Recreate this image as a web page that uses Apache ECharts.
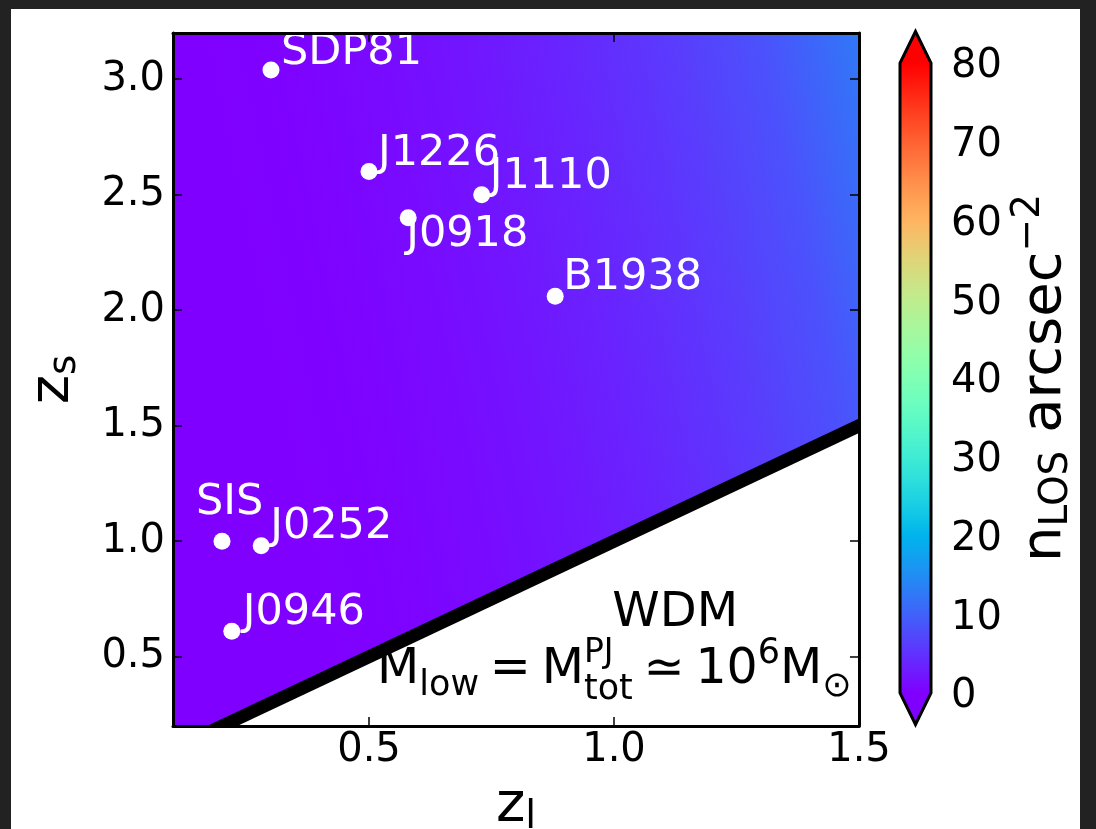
<!DOCTYPE html>
<html><head><meta charset="utf-8">
<script src="https://cdn.jsdelivr.net/npm/echarts@6/dist/echarts.min.js"></script>
<style>
html,body{margin:0;padding:0;background:#222;width:1096px;height:829px;overflow:hidden;}
#frame{position:absolute;left:11px;top:9px;width:1069px;height:820px;background:#fff;}
#chart{position:absolute;left:0;top:0;width:1096px;height:829px;}
</style></head><body>
<div id="frame"></div>
<div id="chart"></div>
<script>
// ---------------- data ----------------
const lensNames = ['SDP81', 'J1226', 'J1110', 'J0918', 'B1938', 'SIS', 'J0252', 'J0946'];
const lensZl    = [0.30, 0.50, 0.73, 0.58, 0.88, 0.20, 0.28, 0.22];
const lensZs    = [3.04, 2.60, 2.50, 2.40, 2.06, 1.00, 0.98, 0.61];
const xTicks = [0.5, 1.0, 1.5];
const yTicks = [0.5, 1.0, 1.5, 2.0, 2.5, 3.0];
const cbarTicks = [0, 10, 20, 30, 40, 50, 60, 70, 80];
// boundary z_s = z_l (white region below has no sources behind the lens)
const boundaryZl = [0.1, 1.6];
const boundaryZs = [0.1, 1.6];
// n_LOS read along the top edge (z_s = 3.2) of the map
const fieldZl  = [0.1, 0.3, 0.5, 0.7, 0.9, 1.1, 1.3, 1.5];
const fieldNlos = [0.0, 0.2, 1.0, 2.2, 3.8, 5.8, 8.3, 12.5];
const xRange = [0.1, 1.5], yRange = [0.2, 3.2], cbarRange = [0, 80];

// ---------------- styles ----------------
const FONT = 'DejaVu Sans';
const TICK_FS = 40;
const LABEL_FS = 43;
const labelOffset = { // pixel offset of label origin (left, cap-centre) from the dot centre
  SDP81: [10, -17], J1226: [9, -18], J1110: [8, -18], J0918: [-2, 17],
  B1938: [8, -19], SIS: [-26, -38], J0252: [9, -19], J0946: [11, -18]
};
const contourTilt = 0.21; // tan of isocontour tilt of the colour map

function rainbow(t) { // matplotlib 'rainbow' colormap
  t = Math.max(0, Math.min(1, t));
  const r = Math.min(1, Math.abs(2 * t - 0.5)), g = Math.sin(Math.PI * t), b = Math.cos(Math.PI * t / 2);
  return 'rgb(' + Math.round(r * 255) + ',' + Math.round(g * 255) + ',' + Math.round(Math.max(0, b) * 255) + ')';
}
const mctx = document.createElement('canvas').getContext('2d');
function tw(text, size) { mctx.font = size + 'px "' + FONT + '"'; return mctx.measureText(text).width; }
function txt(text, x, baseline, size) {
  return { type: 'text', style: { text: text, x: x, y: baseline - 0.35 * size, fill: '#000',
    fontSize: size, fontFamily: FONT, align: 'left', verticalAlign: 'middle' } };
}

const chart = echarts.init(document.getElementById('chart'));

const axisLineStyle = { show: true, onZero: false, lineStyle: { color: '#000', width: 3 } };
function mainAxis(kind, pos, ticks, range, withLabels, extra) {
  return Object.assign({
    gridIndex: 0, type: 'value', min: range[0], max: range[1], position: pos, z: 10,
    axisLine: axisLineStyle,
    axisTick: { show: true, inside: true, length: 9, customValues: ticks, lineStyle: { color: '#000', width: 1.5 } },
    axisLabel: { show: withLabels, customValues: ticks, formatter: v => v.toFixed(1), color: '#000',
      fontSize: TICK_FS, fontFamily: FONT, margin: kind === 'x' ? 5 : 8 },
    splitLine: { show: false }
  }, extra || {});
}

const richName = {
  m: { fontSize: 56, lineHeight: 56, fontFamily: FONT, color: '#000', verticalAlign: 'top' },
  s: { fontSize: 39, lineHeight: 39, fontFamily: FONT, color: '#000', verticalAlign: 'top', padding: [20, 0, 0, 0] }
};
const richCbar = {
  m: { fontSize: 56, lineHeight: 56, fontFamily: FONT, color: '#000', verticalAlign: 'top', padding: [8, 0, 0, 0] },
  s: { fontSize: 39, lineHeight: 39, fontFamily: FONT, color: '#000', verticalAlign: 'top', padding: [28, 0, 0, 0] },
  p: { fontSize: 39, lineHeight: 39, fontFamily: FONT, color: '#000', verticalAlign: 'top' }
};

const option = {
  animation: false,
  grid: [
    { left: 173, top: 33, width: 686, height: 693, containLabel: false, outerBoundsMode: 'none' },
    { left: 900, top: 63, width: 31, height: 630, containLabel: false, outerBoundsMode: 'none' }
  ],
  xAxis: [
    mainAxis('x', 'bottom', xTicks, xRange, true, {
      name: '{m|z}{s|l}', nameLocation: 'middle', nameGap: 52, nameMoveOverlap: false,
      nameTextStyle: { rich: richName }
    }),
    mainAxis('x', 'top', xTicks, xRange, false),
    { gridIndex: 1, type: 'value', min: 0, max: 1, show: false }
  ],
  yAxis: [
    mainAxis('y', 'left', yTicks, yRange, true, {
      name: '{m|z}{s|s}', nameLocation: 'middle', nameGap: 92, nameMoveOverlap: false,
      nameTextStyle: { rich: richName }
    }),
    mainAxis('y', 'right', yTicks, yRange, false),
    {
      gridIndex: 1, type: 'value', min: cbarRange[0], max: cbarRange[1], interval: 10, position: 'right',
      axisLine: { show: false },
      axisTick: { show: true, inside: false, length: 9, lineStyle: { color: '#000', width: 1.5 } },
      axisLabel: { show: true, customValues: cbarTicks, margin: 20, formatter: v => '{t|' + v + '}',
        rich: { t: { color: '#000', fontSize: TICK_FS, fontFamily: FONT, lineHeight: 40, padding: [8, 0, 0, 0] } } },
      splitLine: { show: false },
      name: '{m|n}{s|LOS}{m| arcsec}{p|−2}', nameLocation: 'middle', nameGap: 78, nameRotate: 90,
      nameMoveOverlap: false, nameTextStyle: { rich: richCbar }
    }
  ],
  series: [
    { // colour map n_LOS(z_l, z_s) on the allowed region z_s > z_l
      type: 'custom', xAxisIndex: 0, yAxisIndex: 0, clip: true, z: 1, silent: true,
      data: [[xRange[0], yRange[1]]],
      renderItem: function (params, api) {
        const pts = [[xRange[0], yRange[0]], [yRange[0], yRange[0]], [xRange[1], xRange[1]],
                     [xRange[1], yRange[1]], [xRange[0], yRange[1]]].map(p => api.coord(p));
        const S = api.coord([xRange[0], yRange[1]]);
        const L = api.coord([xRange[1], yRange[1]])[0] - S[0];
        const c = 1 / Math.sqrt(1 + contourTilt * contourTilt), s = contourTilt * c;
        const E = [S[0] + L * c * c, S[1] - L * c * s];
        const stops = fieldZl.map((z, i) => ({
          offset: (api.coord([z, yRange[1]])[0] - S[0]) / L,
          color: rainbow(fieldNlos[i] / cbarRange[1])
        }));
        return { type: 'polygon', shape: { points: pts },
          style: { fill: new echarts.graphic.LinearGradient(S[0], S[1], E[0], E[1], stops, true) } };
      }
    },
    { // boundary z_s = z_l, drawn as thick line clipped exactly to the axes
      type: 'custom', xAxisIndex: 0, yAxisIndex: 0, clip: true, z: 3, silent: true,
      data: boundaryZl.map((x, i) => [x, boundaryZs[i]]),
      renderItem: function (params, api) {
        if (params.dataIndex !== 0) return null;
        const pts = boundaryZl.map((x, i) => api.coord([x, boundaryZs[i]]));
        return { type: 'polyline', shape: { points: pts },
          style: { stroke: '#000', lineWidth: 13, fill: 'none', lineCap: 'butt' } };
      }
    },
    {
      type: 'scatter', xAxisIndex: 0, yAxisIndex: 0, z: 4, silent: true,
      symbol: 'circle', symbolSize: 17, itemStyle: { color: '#fff', opacity: 1 },
      emphasis: { disabled: true },
      data: lensNames.map((n, i) => ({
        name: n, value: [lensZl[i], lensZs[i]],
        label: { position: [8.5 + labelOffset[n][0], 8.5 + labelOffset[n][1]] }
      })),
      label: { show: true, formatter: '{b}', color: '#fff', opacity: 1, fontSize: LABEL_FS, fontFamily: FONT,
        align: 'left', verticalAlign: 'middle' }
    },
    { // annotation text
      type: 'custom', xAxisIndex: 0, yAxisIndex: 0, clip: false, z: 5, silent: true,
      data: [[1.485, 0.365]],
      renderItem: function (params, api) {
        const a = api.coord([api.value(0), api.value(1)]);
        const F = 49, f = 35;
        const els = [];
        const gap = 0.22 * F;
        const pieces = [];
        let x = 0;
        function put(t, size, dy) { pieces.push([t, x, dy, size]); x += tw(t, size); }
        put('M', F, 0); put('low', f, 10);
        x += gap; put('=', F, 0); x += gap;
        put('M', F, 0);
        const xt = x; pieces.push(['PJ', xt, -23, f - 2]);
        put('tot', f, 14);
        x += gap; put('≃', F, 0); x += gap;
        put('10', F, 0); put('6', f, -22); put('M', F, 0); put('⊙', f, 11);
        const x0 = a[0] - x;
        pieces.forEach(p => els.push(txt(p[0], x0 + p[1], a[1] + p[2], p[3])));
        const w = api.coord([1.125, 0.685]);
        els.push({ type: 'text', style: { text: 'WDM', x: w[0], y: w[1], fill: '#000', fontSize: 48,
          fontFamily: FONT, align: 'center', verticalAlign: 'middle' } });
        return { type: 'group', children: els };
      }
    },
    { // colour bar with extension triangles
      type: 'custom', xAxisIndex: 2, yAxisIndex: 2, clip: false, z: 5, silent: true,
      data: [[0, 0]],
      renderItem: function (params, api) {
        const ext = 0.05 * (cbarRange[1] - cbarRange[0]);
        const lo = cbarRange[0], hi = cbarRange[1];
        const p00 = api.coord([0, lo]), p11 = api.coord([1, hi]);
        const top = api.coord([0.5, hi + ext]), bot = api.coord([0.5, lo - ext]);
        const p01 = api.coord([0, hi]), p10 = api.coord([1, lo]);
        const stops = [];
        for (let k = 0; k <= 32; k++) stops.push({ offset: k / 32, color: rainbow(k / 32) });
        return { type: 'group', children: [
          { type: 'rect', shape: { x: p00[0], y: p11[1], width: p11[0] - p00[0], height: p00[1] - p11[1] },
            style: { fill: new echarts.graphic.LinearGradient(0, 1, 0, 0, stops) } },
          { type: 'polygon', shape: { points: [p01, p11, top] }, style: { fill: rainbow(1) } },
          { type: 'polygon', shape: { points: [p00, p10, bot] }, style: { fill: rainbow(0) } },
          { type: 'polygon', shape: { points: [p00, p01, top, p11, p10, bot] },
            style: { fill: 'none', stroke: '#000', lineWidth: 3, lineJoin: 'miter' } }
        ] };
      }
    }
  ]
};
chart.setOption(option);
</script>
</body></html>
